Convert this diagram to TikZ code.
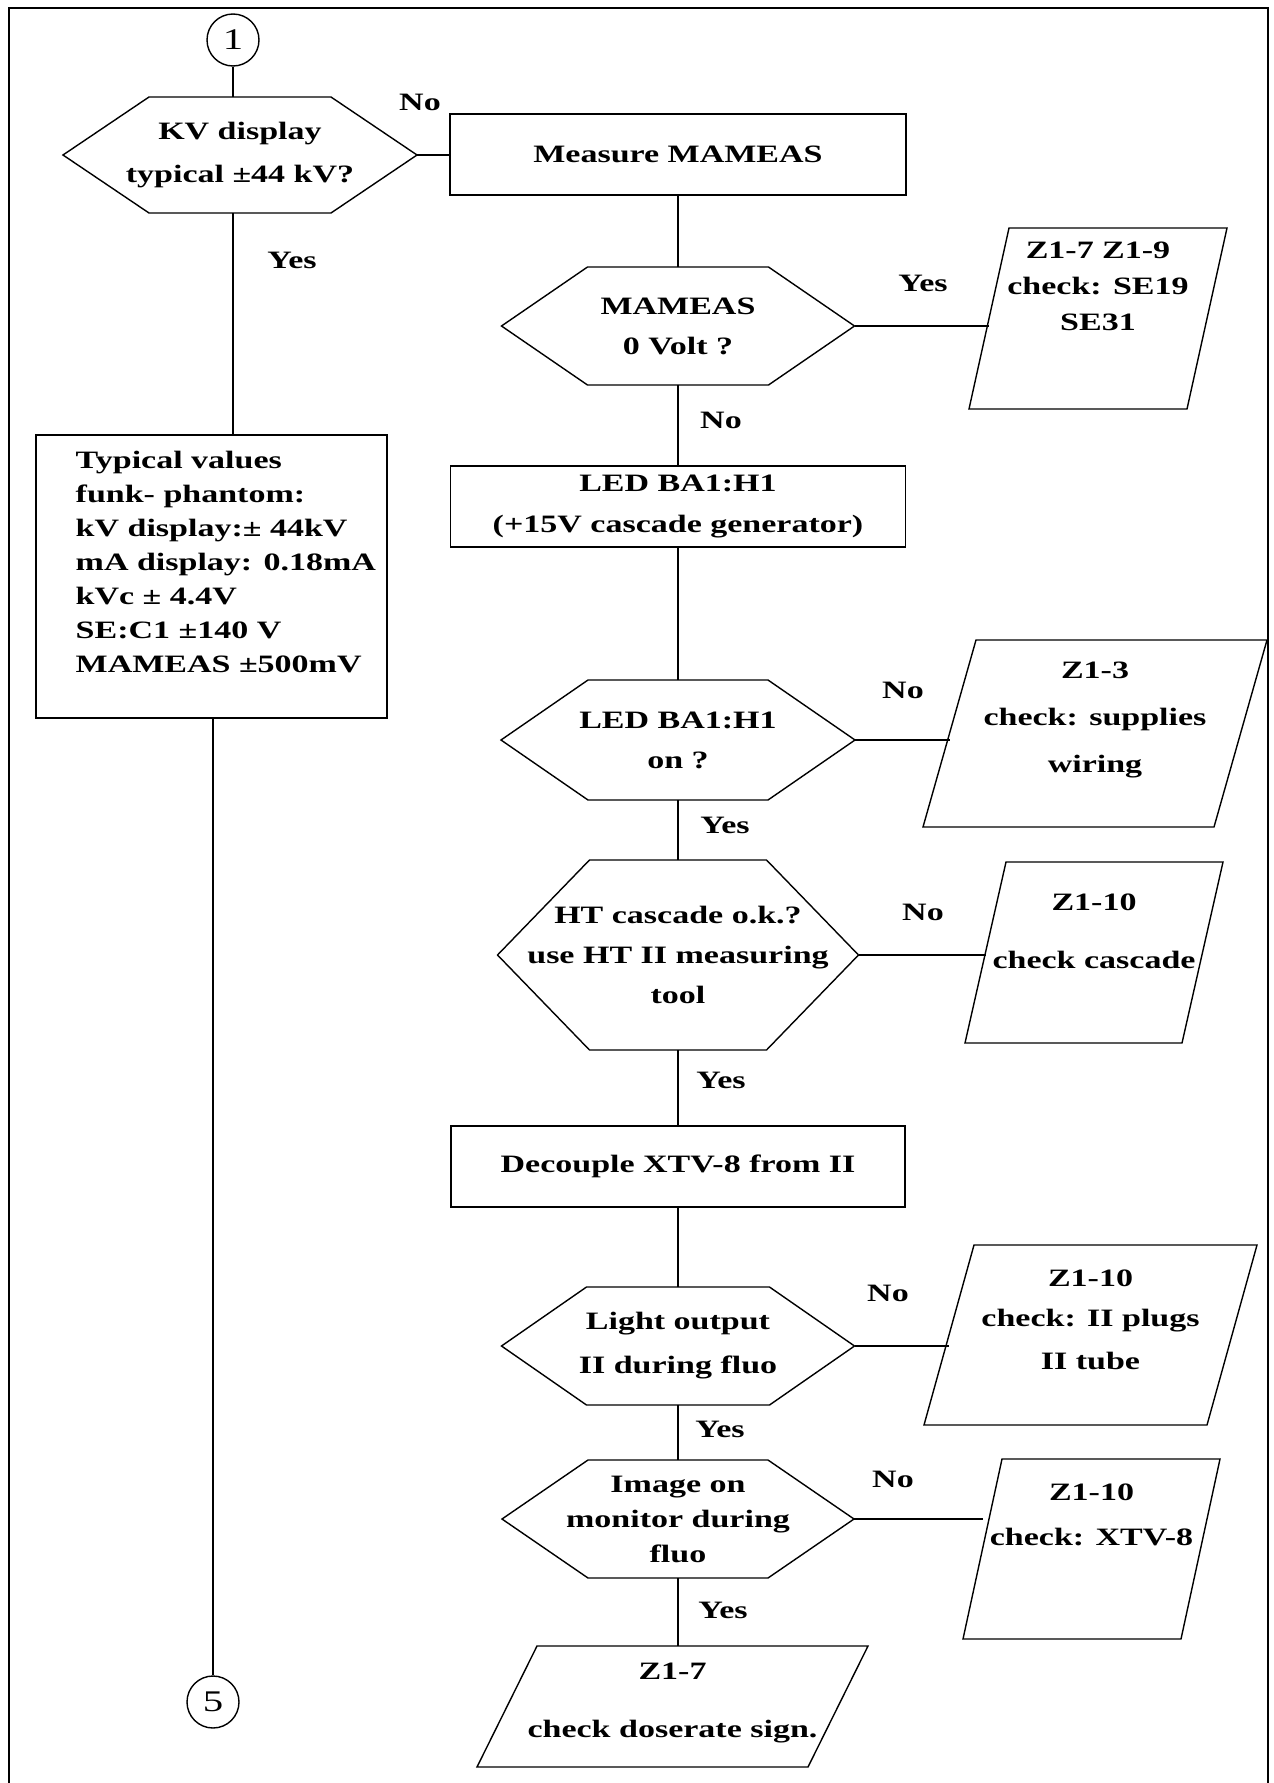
\documentclass[tikz,border=0pt]{standalone}
\usepackage{fontspec}
\setmainfont{Liberation Serif}[FakeStretch=1.36]
\usepackage{tikz}
\usetikzlibrary{calc}

\begin{document}
\begin{tikzpicture}[
    x=1pt, y=-1pt,
    line width=1.4pt,
    every node/.style={font=\fontsize{25}{40}\selectfont\bfseries},
    procbox/.style={rectangle, draw, outer sep=0pt, inner sep=0pt, align=center},
    hexbox/.style={rectangle, outer sep=0pt, inner sep=0pt, align=center},
    iobox/.style={rectangle, outer sep=0pt, inner sep=0pt},
    iotext/.style={align=center, inner sep=0pt},
    notes/.style={align=left, inner sep=0pt, font=\fontsize{25}{34}\selectfont\bfseries},
    conn/.style={circle, draw, inner sep=0pt, minimum size=52pt, font=\fontsize{30}{30}\selectfont},
    answer/.style={inner sep=0pt}
]

\useasboundingbox (0,0) rectangle (1274,1783);
\draw (9,1783) -- (9,8) -- (1268,8) -- (1268,1783);

\node[conn] (c1) at (233,40) {1};
\node[hexbox, minimum width=354, minimum height=116] (kv) at (240,155) {KV display\\[3pt]typical ±44 kV?};
\node[procbox, minimum width=351, minimum height=283] (typ) at (211.5,576.5) {};
\node[notes, anchor=north west] (typt) at ($(typ.north west)+(39,15)$) {Typical values\\funk- phantom:\\kV display:± 44kV\\mA display: 0.18mA\\kVc ± 4.4V\\SE:C1 ±140 V\\MAMEAS ±500mV};
\node[conn] (c5) at (213,1702) {5};

\node[procbox, minimum width=456, minimum height=81] (meas) at (678,154.5) {Measure MAMEAS};
\node[hexbox, minimum width=353, minimum height=118] (mam) at (678,326) {MAMEAS\\0 Volt ?};
\node[iobox, minimum width=258, minimum height=181] (p1) at (1098,318.5) {};
\node[iotext] (p1t) at ($(p1)+(0,-32)$) {Z1-7 Z1-9\\[-4pt]check: SE19\\[-4pt]SE31};

\node[procbox, minimum width=455, minimum height=81] (led) at (678,506.5) {LED BA1:H1\\(+15V cascade generator)};
\node[hexbox, minimum width=354, minimum height=120] (ledq) at (678,740) {LED BA1:H1\\on ?};
\node[iobox, minimum width=344, minimum height=187] (p2) at (1095,733.5) {};
\node[iotext] (p2t) at ($(p2)+(0,-14)$) {Z1-3\\[7pt]check: supplies\\[7pt]wiring};

\node[hexbox, minimum width=361, minimum height=190] (ht) at (678,955) {HT cascade o.k.?\\use HT II measuring\\tool};
\node[iobox, minimum width=258, minimum height=181] (p3) at (1094,952.5) {};
\node[iotext] (p3t) at ($(p3)+(0,-21)$) {Z1-10\\[18pt]check cascade};

\node[procbox, minimum width=454, minimum height=81] (dec) at (678,1166.5) {Decouple XTV-8 from II};
\node[hexbox, minimum width=353, minimum height=118] (light) at (678,1346) {Light output\\[4pt]II during fluo};
\node[iobox, minimum width=333, minimum height=180] (p4) at (1090.5,1335) {};
\node[iotext] (p4t) at ($(p4)+(0,-15)$) {Z1-10\\check: II plugs\\[3pt]II tube};

\node[hexbox, minimum width=352, minimum height=118] (img) at (678,1519) {Image on\\[-5pt]monitor during\\[-5pt]fluo};
\node[iobox, minimum width=257, minimum height=180] (p5) at (1091.5,1549) {};
\node[iotext] (p5t) at ($(p5)+(0,-34)$) {Z1-10\\[5pt]check: XTV-8};
\node[iobox, minimum width=391, minimum height=121] (p6) at (672.5,1706.5) {};
\node[iotext] (p6t) at ($(p6)+(0,-4)$) {Z1-7\\[18pt]check doserate sign.};

\node[answer] (no1) at (420,102) {No};
\node[answer] (yes1) at (292,260) {Yes};
\node[answer] (yes2) at (923,283) {Yes};
\node[answer] (no2) at (721,420) {No};
\node[answer] (no3) at (903,690) {No};
\node[answer] (yes3) at (725,825) {Yes};
\node[answer] (no4) at (923,912) {No};
\node[answer] (yes4) at (721,1080) {Yes};
\node[answer] (no5) at (888,1293) {No};
\node[answer] (yes5) at (720,1429) {Yes};
\node[answer] (no6) at (893,1479) {No};
\node[answer] (yes6) at (723,1610) {Yes};

\foreach \n/\d in {kv/86, mam/86, ledq/87, ht/92, light/85, img/86}
  \draw ($(\n.north west)+(\d,0)$) -- ($(\n.north east)+(-\d,0)$) -- (\n.east)
     -- ($(\n.south east)+(-\d,0)$) -- ($(\n.south west)+(\d,0)$) -- (\n.west) -- cycle;
\foreach \n/\s in {p1/40, p2/53, p3/41, p4/50, p5/39, p6/60} {
  \draw ($(\n.north west)+(\s,0)$) -- (\n.north east) -- ($(\n.south east)+(-\s,0)$) -- (\n.south west) -- cycle;
  \coordinate (\n-in) at ($(\n.west)+(\s/2,0)$);
}

\draw (c1) -- (c1 |- kv.north);
\draw (kv.east) -- (kv.east -| meas.west);
\draw (c1 |- kv.south) -- (c1 |- typ.north);
\draw (c5 |- typ.south) -- (c5);

\draw (meas.south) -- (mam.north);
\draw (mam.east) -- (mam.east -| p1-in);
\draw (mam.south) -- (led.north);
\draw (led.south) -- (ledq.north);
\draw (ledq.east) -- (ledq.east -| p2-in);
\draw (ledq.south) -- (ht.north);
\draw (ht.east) -- (ht.east -| p3-in);
\draw (ht.south) -- (dec.north);
\draw (dec.south) -- (light.north);
\draw (light.east) -- (light.east -| p4-in);
\draw (light.south) -- (img.north);
\draw (img.east) -- (img.east -| p5-in);
\draw (img.south) -- (img.south |- p6.north);

\end{tikzpicture}
\end{document}
